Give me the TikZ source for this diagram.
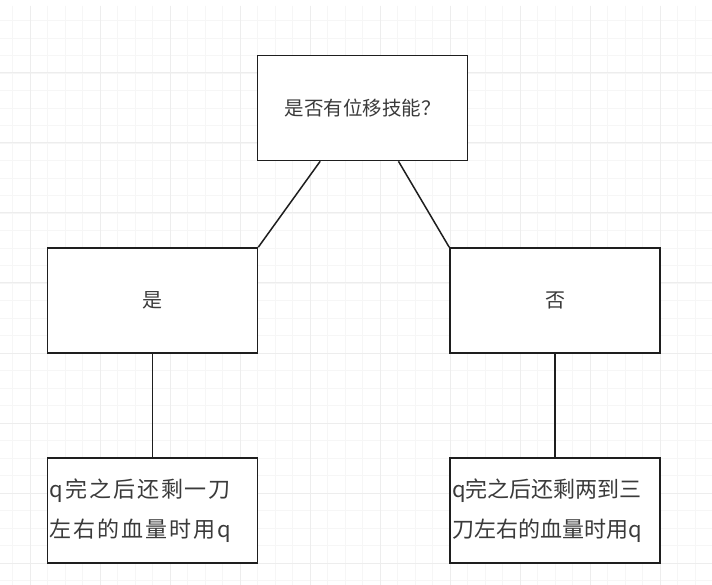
\documentclass[tikz,border=0pt]{standalone}
\usepackage{fontspec}
\newfontfamily\cjk{Noto Sans CJK SC}
\usetikzlibrary{calc}
\definecolor{gridminor}{HTML}{F6F6F6}
\definecolor{gridmajor}{HTML}{EDEDED}
\definecolor{boxline}{HTML}{1E1E1E}
\definecolor{txt}{HTML}{3A3A3A}
\begin{document}
\begin{tikzpicture}[x=1pt,y=-1pt,
  box/.style={draw=boxline, line width=1.6pt, minimum width=210pt, minimum height=105pt,
    inner sep=0pt, text=txt, font=\cjk\fontsize{20}{24}\selectfont},
  textbox/.style={box, text width=206pt, align=left, inner xsep=2pt,
    font=\cjk\fontsize{22}{40}\selectfont},
  link/.style={draw=boxline, line width=1.5pt},
  minorline/.style={draw=gridminor, line width=0.8pt},
  majorline/.style={draw=gridmajor, line width=1pt}]
\fill[white] (0,0) rectangle (712,585);
\useasboundingbox (0,0) rectangle (712,585);
% grid
\foreach \x in {12.5,30,...,712} \draw[minorline] (\x,6) -- (\x,585);
\foreach \y in {20.5,38,...,585} \draw[minorline] (0,\y) -- (712,\y);
\foreach \x in {30,100,...,712} \draw[majorline] (\x,6) -- (\x,585);
\foreach \y in {73,143,...,585} \draw[majorline] (0,\y) -- (712,\y);
% nodes
\node[box, fill=white, font=\cjk\fontsize{19.5}{24}\selectfont] (q) at (362.5,108) {是否有位移技能？};
\node[box, fill=white] (yes) at (152.5,300.5) {是};
\node[box, fill=white] (no) at (555,300.5) {否};
\node[textbox, fill=white] (yesact) at (152.5,510.5)
  {\addfontfeature{LetterSpace=9}q完之后还剩一刀\\左右的血量时用q};
\node[textbox, fill=white] (noact) at (555,510.5)
  {q完之后还剩两到三\\刀左右的血量时用q};
% connectors
\draw[link] ($(q.south west)!0.3!(q.south east)$) -- (yes.north east);
\draw[link] ($(q.south west)!0.67!(q.south east)$) -- (no.north west);
\draw[link] (yes.south) -- (yesact.north);
\draw[link] (no.south) -- (noact.north);
\end{tikzpicture}
\end{document}
